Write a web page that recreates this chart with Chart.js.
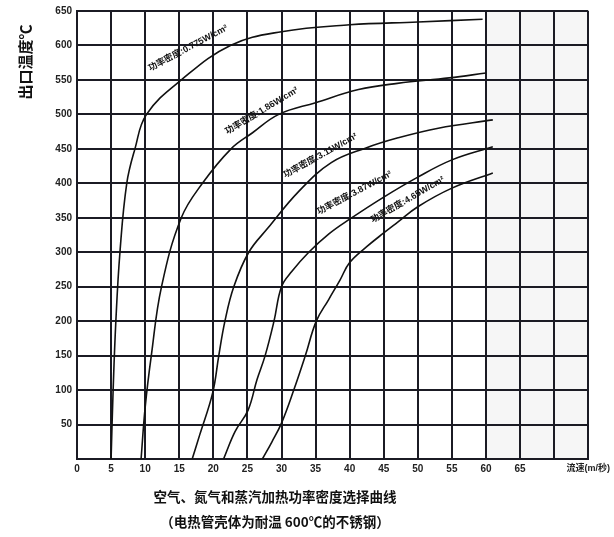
<!DOCTYPE html>
<html>
<head>
<meta charset="utf-8">
<script src="https://cdn.jsdelivr.net/npm/chart.js@4.4.1/dist/chart.umd.min.js"></script>
<style>
  html, body { margin: 0; padding: 0; background: #fff; }
  #wrap { width: 614px; height: 537px; position: relative; }
</style>
</head>
<body>
<div id="wrap"><canvas id="myChart"></canvas></div>
<script>
// flow speed (m/s) and outlet temperature (°C)
const flow1 = [5.0, 5.3, 5.7, 6.3, 7.3, 8.5, 10.2, 15.3, 22.5, 30, 40, 50, 59.5]
const temp1 = [0, 100, 200, 300, 400, 450, 500, 550, 600, 620, 630, 634, 638]

const flow2 = [9.4, 10.0, 10.9, 12.4, 15.3, 18.4, 22.6, 25.7, 29.6, 35, 41.3, 47, 54.6, 60]
const temp2 = [0, 75, 150, 250, 350, 400, 450, 473, 500, 517, 536, 545, 553, 560]

const flow3 = [16.9, 18.0, 19.9, 20.8, 21.7, 23.0, 25.2, 28, 32.5, 37.3, 42.3, 47.1, 53, 61]
const temp3 = [0, 35, 96, 150, 200, 250, 300, 335, 388, 430, 451, 466, 480, 492]

const flow4 = [21.5, 23.2, 25.1, 26.4, 27.6, 28.9, 30, 31.5, 34, 37, 40, 45, 50, 55, 61]
const temp4 = [0, 40, 71, 115, 150, 200, 250, 272, 300, 327, 348, 380, 409, 434, 453]

const flow5 = [27.2, 28.6, 30, 31.8, 33.5, 35.1, 36.9, 38.6, 40, 42.5, 45, 47.1, 50, 55, 61]
const temp5 = [0, 25, 52, 100, 150, 200, 231, 260, 285, 308, 328, 344, 366, 393, 415]

const curveNames = ['功率密度:0.775W/cm²', '功率密度:1.86W/cm²', '功率密度:3.11W/cm²', '功率密度:3.87W/cm²', '功率密度:4.65W/cm²']
// where each curve's name sits, in chart units
const nameFlow = [16.3, 27.1, 35.7, 40.7, 48.5]
const nameTemp = [596, 505, 440, 386, 376]
const nameAngle = [-28, -31, -29, -28, -30]

const flows = [flow1, flow2, flow3, flow4, flow5]
const temps = [temp1, temp2, temp3, temp4, temp5]

const ink = '#1b1b24'

const datasets = flows.map((f, i) => ({
  label: curveNames[i],
  data: f.map((x, j) => ({ x: x, y: temps[i][j] })),
  borderColor: '#111',
  borderWidth: 1.6,
  pointRadius: 0,
  fill: false,
  tension: 0.4
}))

const extras = {
  id: 'extras',
  beforeDraw(chart) {
    const { ctx, chartArea, scales } = chart
    // light shaded block past 60 m/s
    const x60 = scales.x.getPixelForValue(60)
    ctx.save()
    ctx.fillStyle = '#f6f6f6'
    ctx.fillRect(x60, chartArea.top, chartArea.right - x60, chartArea.bottom - chartArea.top)
    ctx.restore()
  },
  afterDraw(chart) {
    const { ctx, scales } = chart
    ctx.save()
    ctx.fillStyle = '#111'
    // curve names
    ctx.font = 'bold 9px "Liberation Sans", "Noto Sans CJK SC"'
    ctx.textAlign = 'center'
    ctx.textBaseline = 'middle'
    curveNames.forEach((t, i) => {
      ctx.save()
      ctx.translate(scales.x.getPixelForValue(nameFlow[i]), scales.y.getPixelForValue(nameTemp[i]))
      ctx.rotate(nameAngle[i] * Math.PI / 180)
      ctx.fillText(t, 0, 0)
      ctx.restore()
    })
    // y axis title
    ctx.save()
    ctx.translate(25, 62)
    ctx.rotate(-Math.PI / 2)
    ctx.font = 'bold 15px "Noto Sans CJK SC"'
    ctx.fillText('出口温度℃', 0, 0)
    ctx.restore()
    // caption
    ctx.font = 'bold 13.5px "Noto Sans CJK SC"'
    ctx.fillText('空气、氮气和蒸汽加热功率密度选择曲线', 275, 497)
    ctx.fillText('（电热管壳体为耐温 600℃的不锈钢）', 275, 522)
    ctx.restore()
  }
}

new Chart(document.getElementById('myChart'), {
  type: 'line',
  data: { datasets: datasets },
  options: {
    responsive: true,
    maintainAspectRatio: false,
    animation: false,
    layout: { padding: { left: 0, right: 25, top: 11, bottom: 58 } },
    plugins: {
      legend: { display: false },
      tooltip: { enabled: false }
    },
    scales: {
      x: {
        type: 'linear',
        min: 0,
        max: 75,
        afterFit: s => { s.height = 20 },
        grid: { color: ink, lineWidth: 2, drawTicks: false },
        border: { color: ink, width: 2 },
        ticks: {
          stepSize: 5,
          autoSkip: false,
          maxRotation: 0,
          padding: 4,
          color: '#222',
          font: c => (c.tick && c.tick.value === 75)
            ? { family: '"Liberation Sans", "Noto Sans CJK SC"', size: 9, weight: 'bold' }
            : { family: '"Liberation Sans"', size: 10, weight: 'bold' },
          callback: v => v === 75 ? '流速(m/秒)' : (v === 70 ? '' : v)
        }
      },
      y: {
        type: 'linear',
        min: 0,
        max: 650,
        afterFit: s => { s.width = 77 },
        grid: { color: ink, lineWidth: 2, drawTicks: false },
        border: { color: ink, width: 2 },
        ticks: {
          stepSize: 50,
          padding: 5,
          color: '#222',
          font: { family: '"Liberation Sans"', size: 10, weight: 'bold' },
          callback: v => v === 0 ? '' : v
        }
      }
    }
  },
  plugins: [extras]
})
</script>
</body>
</html>
